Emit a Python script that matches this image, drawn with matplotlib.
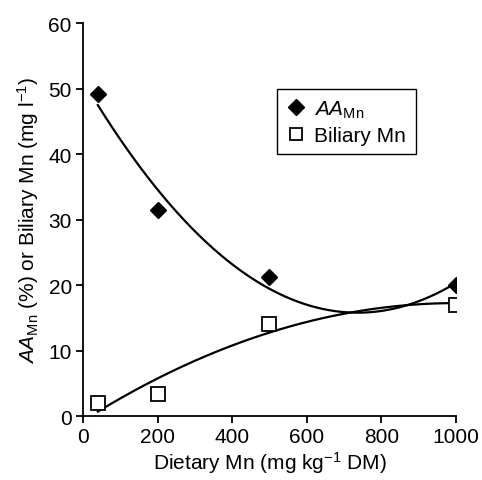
import numpy as np
import matplotlib
matplotlib.use("Agg")
import matplotlib.pyplot as plt

plt.rcParams['font.family'] = ['Liberation Sans', 'DejaVu Sans']
plt.rcParams['mathtext.fontset'] = 'custom'
plt.rcParams['mathtext.rm'] = 'Liberation Sans'
plt.rcParams['mathtext.it'] = 'Liberation Sans:italic'

dietary_mn = [40, 200, 500, 1000]
aa_mn = [49.2, 31.4, 21.2, 20.0]
biliary_mn = [2.0, 3.3, 14.1, 17.0]
x_ticks = [0, 200, 400, 600, 800, 1000]
y_ticks = [0, 10, 20, 30, 40, 50, 60]

FS = 15

fig = plt.figure(figsize=(4.82, 4.81), dpi=100)
ax = fig.add_axes([0.172, 0.133, 0.774, 0.817])

xs = np.linspace(min(dietary_mn), max(dietary_mn), 300)
p_aa = np.polyfit(dietary_mn, aa_mn, 2)
p_bil = np.polyfit(dietary_mn, biliary_mn, 2)
ax.plot(xs, np.polyval(p_aa, xs), color='black', lw=1.6, zorder=2)
ax.plot(xs, np.polyval(p_bil, xs), color='black', lw=1.6, zorder=2)

ax.plot(dietary_mn, aa_mn, linestyle='none', marker='D', markersize=8,
        color='black', label=r'$\mathit{AA}_{\mathrm{Mn}}$', zorder=3)
ax.plot(dietary_mn, biliary_mn, linestyle='none', marker='s', markersize=10,
        markerfacecolor='white', markeredgecolor='black', markeredgewidth=1.3,
        label='Biliary Mn', zorder=3)

ax.set_xlim(0, 1000)
ax.set_ylim(0, 60)
ax.set_xticks(x_ticks)
ax.set_yticks(y_ticks)
ax.spines['top'].set_visible(False)
ax.spines['right'].set_visible(False)
for s in ('left', 'bottom'):
    ax.spines[s].set_linewidth(1.3)
ax.tick_params(direction='out', length=5, width=1.3, labelsize=FS, colors='black', pad=3)
ax.set_xlabel(r'Dietary Mn (mg kg$^{-1}$ DM)', fontsize=FS, labelpad=2)
ax.set_ylabel(r'$\mathit{AA}_{\mathrm{Mn}}$ (%) or Biliary Mn (mg l$^{-1}$)', fontsize=FS, labelpad=5)

leg = ax.legend(loc='upper left', bbox_to_anchor=(0.52, 0.832), fontsize=FS,
                frameon=True, fancybox=False, edgecolor='black', framealpha=1,
                handlelength=0.9, handletextpad=0.45, borderpad=0.45, labelspacing=0.3,
                borderaxespad=0)
leg.get_frame().set_linewidth(1.0)
for h in leg.legend_handles:
    h.set_markersize(8)

fig.savefig('out.png', dpi=100)
